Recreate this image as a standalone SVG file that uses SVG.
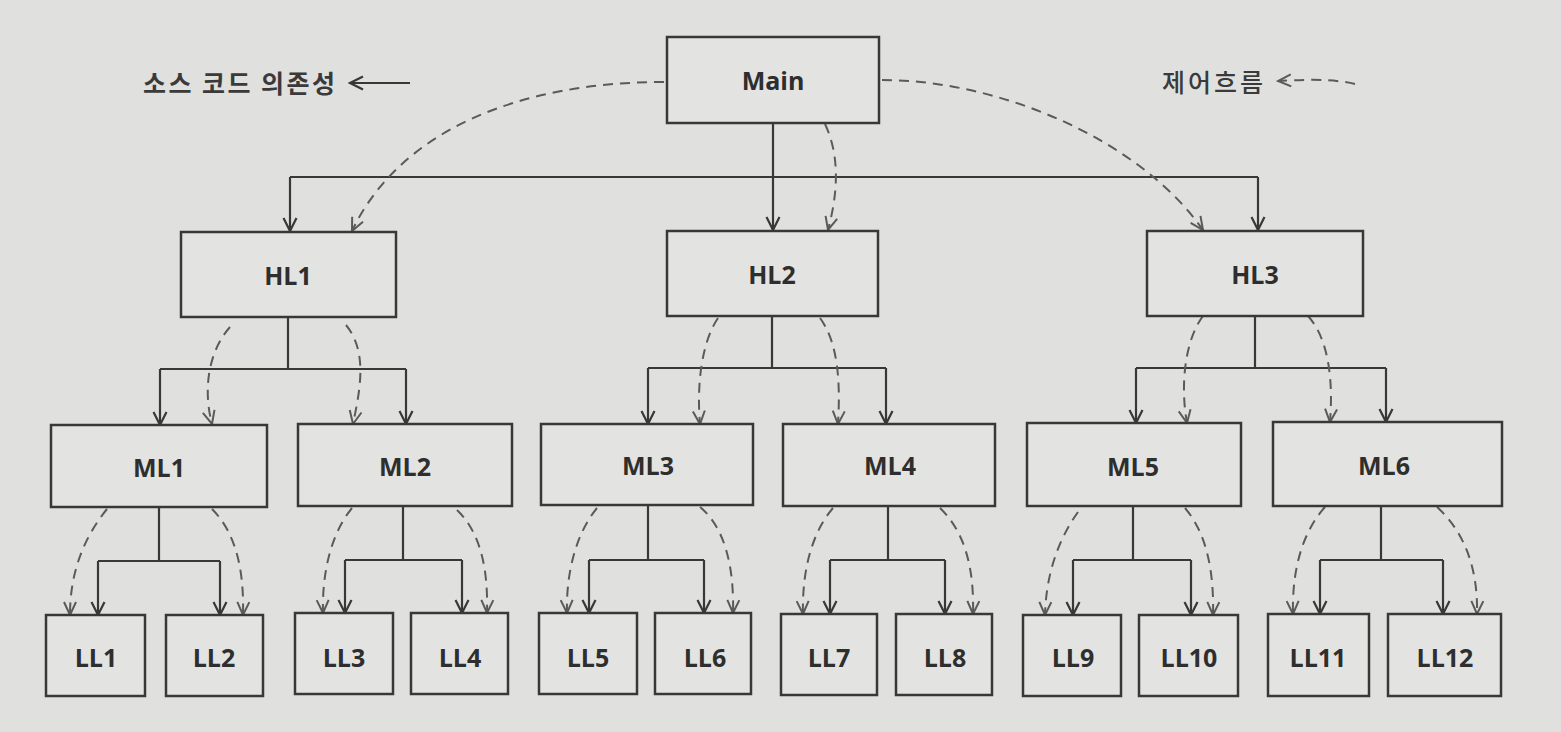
<svg xmlns="http://www.w3.org/2000/svg" width="1561" height="732" viewBox="0 0 1561 732">
<defs>
<style>
.box{fill:#e3e3e1;stroke:#383838;stroke-width:2.5}
.lbl{font-family:"Open Sans","Noto Sans",sans-serif;font-weight:700;font-size:25px;fill:#2e2e2e;text-anchor:middle;dominant-baseline:central}
.sol{fill:none;stroke:#383838;stroke-width:2.2}
.dash{fill:none;stroke:#5a5a5a;stroke-width:2;stroke-dasharray:10 7}
.kr{font-family:"Noto Sans CJK KR","Noto Sans",sans-serif;fill:#3a3a3a}
</style>
<marker id="ah" viewBox="-15 -8 17 16" refX="0" refY="0" markerWidth="17" markerHeight="16" markerUnits="userSpaceOnUse" orient="auto">
<path d="M-13,-6.5 L0,0 L-13,6.5" fill="none" stroke="#383838" stroke-width="2.2"/>
</marker>
<marker id="ahd" viewBox="-15 -8 17 16" refX="0" refY="0" markerWidth="17" markerHeight="16" markerUnits="userSpaceOnUse" orient="auto">
<path d="M-13,-6 L0,0 L-13,6" fill="none" stroke="#5a5a5a" stroke-width="2"/>
</marker>
</defs>
<rect x="0" y="0" width="1561" height="732" fill="#e0e0de"/>

<g id="legend">
<text class="kr" x="143" y="93" font-size="25" font-weight="700" textLength="192" lengthAdjust="spacing">소스 코드 의존성</text>
<path class="sol" d="M410,83 H350" marker-end="url(#ah)"/>
<text class="kr" x="1162" y="92" font-size="25" font-weight="500" textLength="101" lengthAdjust="spacing">제어흐름</text>
<path class="dash" d="M1355,84 C1330,78 1300,80 1278,81" marker-end="url(#ahd)"/>
</g>

<g id="connectors">
<!-- solid: source code dependency -->
<path class="sol" d="M773,123 V230" marker-end="url(#ah)"/>
<path class="sol" d="M290,177 H1258"/>
<path class="sol" d="M290,177 V231" marker-end="url(#ah)"/>
<path class="sol" d="M1258,177 V230" marker-end="url(#ah)"/>

<path class="sol" d="M288,317 V369 M160,369 H406"/>
<path class="sol" d="M160,369 V425" marker-end="url(#ah)"/>
<path class="sol" d="M406,369 V424" marker-end="url(#ah)"/>

<path class="sol" d="M772,316 V368 M648,368 H886"/>
<path class="sol" d="M648,368 V424" marker-end="url(#ah)"/>
<path class="sol" d="M886,368 V424" marker-end="url(#ah)"/>

<path class="sol" d="M1255,316 V368 M1136,368 H1386"/>
<path class="sol" d="M1136,368 V423" marker-end="url(#ah)"/>
<path class="sol" d="M1386,368 V422" marker-end="url(#ah)"/>

<path class="sol" d="M159,507 V561 M98,561 H220"/>
<path class="sol" d="M98,561 V615" marker-end="url(#ah)"/>
<path class="sol" d="M220,561 V615" marker-end="url(#ah)"/>

<path class="sol" d="M403,506 V560 M345,560 H462"/>
<path class="sol" d="M345,560 V613" marker-end="url(#ah)"/>
<path class="sol" d="M462,560 V613" marker-end="url(#ah)"/>

<path class="sol" d="M648,505 V560 M589,560 H704"/>
<path class="sol" d="M589,560 V613" marker-end="url(#ah)"/>
<path class="sol" d="M704,560 V613" marker-end="url(#ah)"/>

<path class="sol" d="M888,506 V560 M830,560 H945"/>
<path class="sol" d="M830,560 V614" marker-end="url(#ah)"/>
<path class="sol" d="M945,560 V614" marker-end="url(#ah)"/>

<path class="sol" d="M1133,506 V560 M1073,560 H1191"/>
<path class="sol" d="M1073,560 V615" marker-end="url(#ah)"/>
<path class="sol" d="M1191,560 V615" marker-end="url(#ah)"/>

<path class="sol" d="M1381,506 V560 M1320,560 H1443"/>
<path class="sol" d="M1320,560 V614" marker-end="url(#ah)"/>
<path class="sol" d="M1443,560 V614" marker-end="url(#ah)"/>

<!-- dashed: control flow -->
<path class="dash" d="M664,82 C520,82 400,130 352,231" marker-end="url(#ahd)"/>
<path class="dash" d="M825,124 C842,160 836,200 828,230" marker-end="url(#ahd)"/>
<path class="dash" d="M882,80 C1000,80 1140,140 1203,230" marker-end="url(#ahd)"/>

<path class="dash" d="M230,327 C208,352 203,390 212,424" marker-end="url(#ahd)"/>
<path class="dash" d="M346,325 C368,352 360,390 353,424" marker-end="url(#ahd)"/>
<path class="dash" d="M718,318 C700,345 697,390 700,424" marker-end="url(#ahd)"/>
<path class="dash" d="M820,318 C840,345 840,390 838,424" marker-end="url(#ahd)"/>
<path class="dash" d="M1203,316 C1185,340 1180,385 1187,423" marker-end="url(#ahd)"/>
<path class="dash" d="M1308,316 C1330,340 1333,385 1330,422" marker-end="url(#ahd)"/>

<path class="dash" d="M107,509 C82,540 70,575 70,615" marker-end="url(#ahd)"/>
<path class="dash" d="M212,509 C238,535 244,575 243,615" marker-end="url(#ahd)"/>
<path class="dash" d="M352,508 C330,535 322,575 323,613" marker-end="url(#ahd)"/>
<path class="dash" d="M457,510 C483,535 488,575 487,613" marker-end="url(#ahd)"/>
<path class="dash" d="M597,508 C575,535 566,575 567,613" marker-end="url(#ahd)"/>
<path class="dash" d="M700,507 C728,530 734,575 733,613" marker-end="url(#ahd)"/>
<path class="dash" d="M833,508 C810,535 802,575 803,614" marker-end="url(#ahd)"/>
<path class="dash" d="M940,508 C968,535 974,575 973,614" marker-end="url(#ahd)"/>
<path class="dash" d="M1078,512 C1058,540 1046,575 1045,615" marker-end="url(#ahd)"/>
<path class="dash" d="M1185,508 C1208,535 1214,575 1213,615" marker-end="url(#ahd)"/>
<path class="dash" d="M1325,507 C1300,535 1292,575 1293,614" marker-end="url(#ahd)"/>
<path class="dash" d="M1437,507 C1468,535 1478,575 1477,614" marker-end="url(#ahd)"/>
</g>

<g id="Main"><rect class="box" x="667" y="37" width="212" height="86"/><text class="lbl" x="773" y="80">Main</text></g>
<g id="HL1"><rect class="box" x="181" y="232" width="215" height="85"/><text class="lbl" x="288" y="275">HL1</text></g>
<g id="HL2"><rect class="box" x="667" y="231" width="211" height="85"/><text class="lbl" x="772" y="274">HL2</text></g>
<g id="HL3"><rect class="box" x="1147" y="231" width="216" height="85"/><text class="lbl" x="1255" y="274">HL3</text></g>

<g id="ML1"><rect class="box" x="51" y="425" width="216" height="82"/><text class="lbl" x="159" y="467">ML1</text></g>
<g id="ML2"><rect class="box" x="298" y="424" width="214" height="82"/><text class="lbl" x="405" y="466">ML2</text></g>
<g id="ML3"><rect class="box" x="541" y="424" width="212" height="81"/><text class="lbl" x="648" y="465">ML3</text></g>
<g id="ML4"><rect class="box" x="783" y="424" width="212" height="82"/><text class="lbl" x="890" y="465">ML4</text></g>
<g id="ML5"><rect class="box" x="1027" y="423" width="214" height="83"/><text class="lbl" x="1133" y="466">ML5</text></g>
<g id="ML6"><rect class="box" x="1273" y="422" width="229" height="84"/><text class="lbl" x="1384" y="465">ML6</text></g>

<g id="LL1"><rect class="box" x="46" y="615" width="99" height="81"/><text class="lbl" x="96" y="657">LL1</text></g>
<g id="LL2"><rect class="box" x="166" y="615" width="97" height="81"/><text class="lbl" x="214" y="657">LL2</text></g>
<g id="LL3"><rect class="box" x="295" y="613" width="98" height="81"/><text class="lbl" x="344" y="657">LL3</text></g>
<g id="LL4"><rect class="box" x="411" y="613" width="97" height="81"/><text class="lbl" x="460" y="657">LL4</text></g>
<g id="LL5"><rect class="box" x="539" y="613" width="98" height="81"/><text class="lbl" x="588" y="657">LL5</text></g>
<g id="LL6"><rect class="box" x="655" y="613" width="96" height="81"/><text class="lbl" x="705" y="657">LL6</text></g>
<g id="LL7"><rect class="box" x="781" y="614" width="96" height="81"/><text class="lbl" x="829" y="657">LL7</text></g>
<g id="LL8"><rect class="box" x="896" y="614" width="96" height="81"/><text class="lbl" x="945" y="657">LL8</text></g>
<g id="LL9"><rect class="box" x="1023" y="615" width="98" height="81"/><text class="lbl" x="1073" y="657">LL9</text></g>
<g id="LL10"><rect class="box" x="1139" y="615" width="99" height="81"/><text class="lbl" x="1189" y="657">LL10</text></g>
<g id="LL11"><rect class="box" x="1268" y="614" width="101" height="82"/><text class="lbl" x="1318" y="657">LL11</text></g>
<g id="LL12"><rect class="box" x="1388" y="614" width="113" height="82"/><text class="lbl" x="1445" y="657">LL12</text></g>
</svg>
